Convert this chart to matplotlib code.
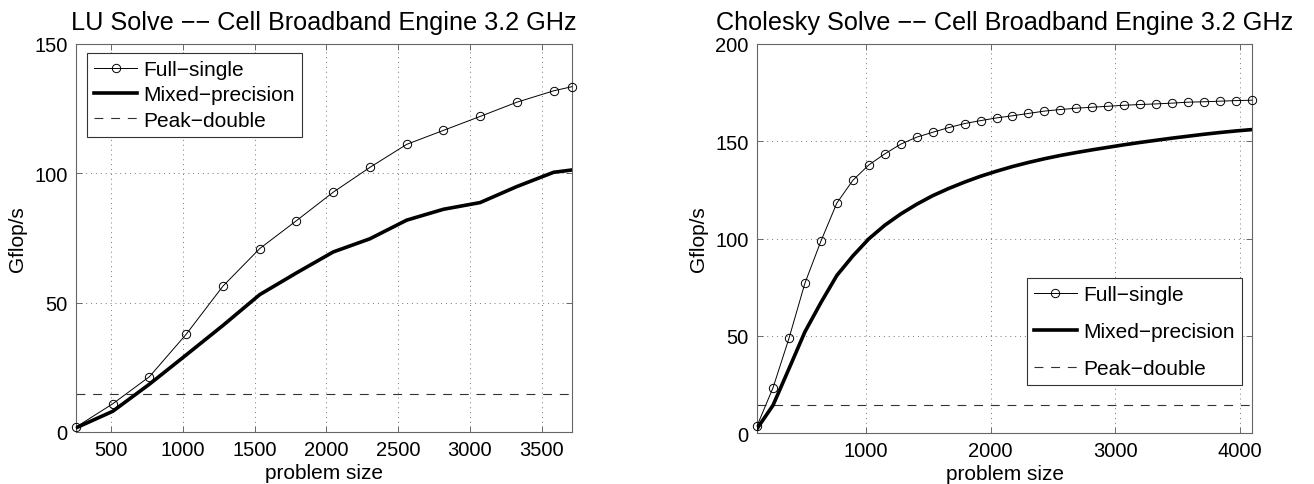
import matplotlib
matplotlib.use("Agg")
import matplotlib.pyplot as plt

plt.rcParams['font.family'] = ['Liberation Sans', 'DejaVu Sans']

# ---- LU Solve data ----
lu_n = [256, 512, 768, 1024, 1280, 1536, 1792, 2048, 2304, 2560, 2816, 3072, 3328, 3584, 3712]
lu_single = [1.9, 10.9, 21.4, 37.8, 56.4, 70.9, 81.7, 92.7, 102.3, 111.2, 116.6, 122.0, 127.5, 131.9, 133.5]
lu_mixed = [1.6, 8.0, 18.5, 29.8, 41.2, 53.1, 61.5, 69.6, 74.7, 81.9, 86.1, 88.7, 94.9, 100.4, 101.3]

# ---- Cholesky Solve data ----
ch_n = [128, 256, 384, 512, 640, 768, 896, 1024, 1152, 1280, 1408, 1536, 1664, 1792, 1920, 2048,
        2176, 2304, 2432, 2560, 2688, 2816, 2944, 3072, 3200, 3328, 3456, 3584, 3712, 3840, 3968, 4096]
ch_single = [3.6, 23.2, 48.6, 77.0, 98.6, 118.2, 129.9, 137.8, 143.5, 148.5, 152.1, 154.6, 157.0, 159.1,
             160.6, 162.0, 163.1, 164.3, 165.5, 166.3, 167.0, 167.5, 168.0, 168.5, 168.9, 169.2, 169.6,
             170.1, 170.3, 170.6, 170.9, 171.1]
ch_mixed = [2.2, 14.2, 33.0, 52.0, 67.0, 81.0, 91.0, 99.8, 106.8, 112.6, 117.6, 122.0, 125.7, 129.0,
            132.0, 134.6, 137.0, 139.1, 141.0, 142.7, 144.2, 145.6, 146.9, 148.2, 149.4, 150.5, 151.6,
            152.6, 153.6, 154.5, 155.3, 156.0]

peak_double = 14.6

lu_xticks = [500, 1000, 1500, 2000, 2500, 3000, 3500]
lu_yticks = [0, 50, 100, 150]
ch_xticks = [1000, 2000, 3000, 4000]
ch_yticks = [0, 50, 100, 150, 200]

labels = ['Full\u2212single', 'Mixed\u2212precision', 'Peak\u2212double']
lu_title = 'LU Solve \u2212\u2212 Cell Broadband Engine 3.2 GHz'
ch_title = 'Cholesky Solve \u2212\u2212 Cell Broadband Engine 3.2 GHz'

TICK_FS = 14.5
LABEL_FS = 15
LEG_FS = 15
TITLE_FS = 18.2

W, H = 1314, 485
fig = plt.figure(figsize=(W / 100, H / 100), dpi=100)

ax1 = fig.add_axes([76 / W, 1 - 433 / H, (572 - 76) / W, (433 - 45) / H])
ax2 = fig.add_axes([757 / W, 1 - 434 / H, (1252 - 757) / W, (434 - 45) / H])


def style(ax, n, single, mixed, xticks, yticks, xlim, ylim, title, legloc, bbox, lspace):
    l1, = ax.plot(n, single, '-', color='black', lw=0.7, marker='o', ms=6,
                  mfc='none', mec='black', mew=0.7, clip_on=False, zorder=4)
    l2, = ax.plot(n, mixed, '-', color='black', lw=2.6, solid_joinstyle='round', zorder=3)
    l3 = ax.axhline(peak_double, color='#333333', lw=0.8, ls=(0, (8, 7)), zorder=2)
    ax.set_xlim(*xlim)
    ax.set_ylim(*ylim)
    ax.set_xticks(xticks)
    ax.set_yticks(yticks)
    ax.tick_params(direction='in', length=4, width=0.6, top=True, right=True,
                   labelsize=TICK_FS, colors='#555555', labelcolor='black', pad=6)
    ax.grid(True, ls=(0, (1, 4)), color='#777777', lw=0.7)
    for s in ax.spines.values():
        s.set_color('#666666')
        s.set_linewidth(0.8)
    ax.set_xlabel('problem size', fontsize=LABEL_FS, labelpad=3)
    ax.set_ylabel('Gflop/s', fontsize=LABEL_FS, labelpad=5)
    ax.set_title(title, fontsize=TITLE_FS, pad=10.5)
    leg = ax.legend([l1, l2, l3], labels, loc=legloc, bbox_to_anchor=bbox,
                    fontsize=LEG_FS, fancybox=False, framealpha=1, edgecolor='#333333',
                    handlelength=2.07, handletextpad=0.3, borderpad=0.35,
                    labelspacing=lspace, borderaxespad=0.0)
    leg.get_frame().set_linewidth(0.8)


style(ax1, lu_n, lu_single, lu_mixed, lu_xticks, lu_yticks, (256, 3712), (0, 150),
      lu_title, 'upper left', (0.022, 0.977), 0.3)
style(ax2, ch_n, ch_single, ch_mixed, ch_xticks, ch_yticks, (128, 4096), (0, 200),
      ch_title, 'lower right', (0.98, 0.123), 0.85)

fig.savefig('out.png', dpi=100)
